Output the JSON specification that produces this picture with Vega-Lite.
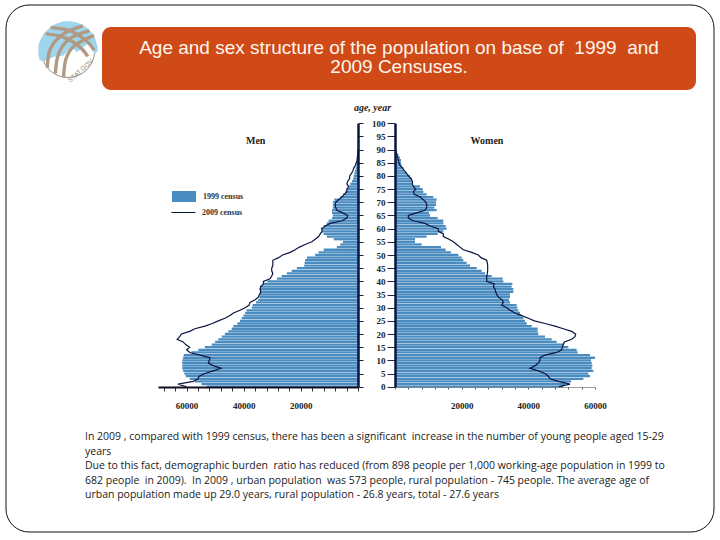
{"$schema":"https://vega.github.io/schema/vega-lite/v6.json","width":720,"height":540,"padding":0,"autosize":{"type":"none"},"background":"white","config":{"view":{"stroke":null},"font":"Liberation Serif"},
"datasets":{"pyramid":[
{"age":0,"men1999":53000,"men2009":60000,"women1999":50500,"women2009":49200},
{"age":1,"men1999":54800,"men2009":63000,"women1999":51000,"women2009":52500},
{"age":2,"men1999":57100,"men2009":57700,"women1999":52800,"women2009":49000},
{"age":3,"men1999":58900,"men2009":56000,"women1999":56500,"women2009":46500},
{"age":4,"men1999":60300,"men2009":55600,"women1999":58500,"women2009":46000},
{"age":5,"men1999":60800,"men2009":53600,"women1999":58000,"women2009":45000},
{"age":6,"men1999":61200,"men2009":50700,"women1999":59500,"women2009":43000},
{"age":7,"men1999":61500,"men2009":48000,"women1999":59000,"women2009":40500},
{"age":8,"men1999":61500,"men2009":50700,"women1999":59200,"women2009":42000},
{"age":9,"men1999":61500,"men2009":52400,"women1999":59000,"women2009":43000},
{"age":10,"men1999":61500,"men2009":52000,"women1999":58800,"women2009":43500},
{"age":11,"men1999":61200,"men2009":51800,"women1999":60000,"women2009":43500},
{"age":12,"men1999":61000,"men2009":55300,"women1999":58500,"women2009":45000},
{"age":13,"men1999":58300,"men2009":58900,"women1999":54800,"women2009":48500},
{"age":14,"men1999":55900,"men2009":60000,"women1999":54500,"women2009":50000},
{"age":15,"men1999":53600,"men2009":58900,"women1999":52000,"women2009":50200},
{"age":16,"men1999":51200,"men2009":60300,"women1999":50500,"women2009":50500},
{"age":17,"men1999":50000,"men2009":61200,"women1999":48500,"women2009":50800},
{"age":18,"men1999":48900,"men2009":63300,"women1999":47000,"women2009":53000},
{"age":19,"men1999":47700,"men2009":62400,"women1999":45000,"women2009":54000},
{"age":20,"men1999":46600,"men2009":61800,"women1999":43000,"women2009":54200},
{"age":21,"men1999":45400,"men2009":58900,"women1999":42800,"women2009":53000},
{"age":22,"men1999":44200,"men2009":57100,"women1999":42800,"women2009":50500},
{"age":23,"men1999":43600,"men2009":53600,"women1999":41000,"women2009":48000},
{"age":24,"men1999":42200,"men2009":51000,"women1999":39500,"women2009":45000},
{"age":25,"men1999":41300,"men2009":48900,"women1999":39000,"women2009":41800},
{"age":26,"men1999":40700,"men2009":46600,"women1999":38500,"women2009":40000},
{"age":27,"men1999":40100,"men2009":44800,"women1999":38000,"women2009":38000},
{"age":28,"men1999":39500,"men2009":43600,"women1999":37500,"women2009":36000},
{"age":29,"men1999":39000,"men2009":41300,"women1999":37000,"women2009":34500},
{"age":30,"men1999":37200,"men2009":39500,"women1999":36700,"women2009":33500},
{"age":31,"men1999":36900,"men2009":38100,"women1999":36500,"women2009":32000},
{"age":32,"men1999":35700,"men2009":37800,"women1999":34500,"women2009":32500},
{"age":33,"men1999":34900,"men2009":36000,"women1999":34200,"women2009":32200},
{"age":34,"men1999":34500,"men2009":34900,"women1999":34500,"women2009":31000},
{"age":35,"men1999":34300,"men2009":34500,"women1999":34500,"women2009":30500},
{"age":36,"men1999":34300,"men2009":34000,"women1999":35500,"women2009":30200},
{"age":37,"men1999":34300,"men2009":34300,"women1999":35500,"women2009":30000},
{"age":38,"men1999":34300,"men2009":34000,"women1999":35000,"women2009":29500},
{"age":39,"men1999":33100,"men2009":33100,"women1999":35200,"women2009":29800},
{"age":40,"men1999":31700,"men2009":33100,"women1999":32500,"women2009":27500},
{"age":41,"men1999":28400,"men2009":30800,"women1999":32300,"women2009":27500},
{"age":42,"men1999":26700,"men2009":30200,"women1999":29000,"women2009":27500},
{"age":43,"men1999":24900,"men2009":29800,"women1999":27000,"women2009":27700},
{"age":44,"men1999":23200,"men2009":30200,"women1999":26000,"women2009":27800},
{"age":45,"men1999":21400,"men2009":30200,"women1999":24500,"women2009":27800},
{"age":46,"men1999":18800,"men2009":29800,"women1999":22500,"women2009":27800},
{"age":47,"men1999":18700,"men2009":29800,"women1999":21500,"women2009":27700},
{"age":48,"men1999":18500,"men2009":29800,"women1999":20500,"women2009":27500},
{"age":49,"men1999":17900,"men2009":27800,"women1999":20000,"women2009":25800},
{"age":50,"men1999":15000,"men2009":26400,"women1999":19000,"women2009":25000},
{"age":51,"men1999":13800,"men2009":23750,"women1999":16800,"women2009":23000},
{"age":52,"men1999":12000,"men2009":22000,"women1999":15200,"women2009":20500},
{"age":53,"men1999":7400,"men2009":20500,"women1999":13800,"women2009":19500},
{"age":54,"men1999":6200,"men2009":18500,"women1999":8000,"women2009":18500},
{"age":55,"men1999":5300,"men2009":16150,"women1999":6000,"women2009":17500},
{"age":56,"men1999":8500,"men2009":15000,"women1999":6000,"women2009":16200},
{"age":57,"men1999":10900,"men2009":13800,"women1999":9500,"women2009":14500},
{"age":58,"men1999":12000,"men2009":13200,"women1999":12800,"women2009":14500},
{"age":59,"men1999":12600,"men2009":12600,"women1999":14500,"women2009":13000},
{"age":60,"men1999":13000,"men2009":12600,"women1999":15500,"women2009":13000},
{"age":61,"men1999":12000,"men2009":11500,"women1999":15200,"women2009":10500},
{"age":62,"men1999":10900,"men2009":9700,"women1999":14500,"women2009":9000},
{"age":63,"men1999":10300,"men2009":5600,"women1999":14500,"women2009":5500},
{"age":64,"men1999":9100,"men2009":3900,"women1999":12800,"women2009":4000},
{"age":65,"men1999":8800,"men2009":3600,"women1999":10500,"women2009":4000},
{"age":66,"men1999":9100,"men2009":5300,"women1999":10200,"women2009":6500},
{"age":67,"men1999":9100,"men2009":7400,"women1999":12500,"women2009":9000},
{"age":68,"men1999":8800,"men2009":7800,"women1999":11800,"women2009":9500},
{"age":69,"men1999":8800,"men2009":8000,"women1999":12300,"women2009":9500},
{"age":70,"men1999":8800,"men2009":7800,"women1999":12300,"women2009":9300},
{"age":71,"men1999":8300,"men2009":6800,"women1999":12500,"women2009":8500},
{"age":72,"men1999":6200,"men2009":5600,"women1999":11500,"women2009":7500},
{"age":73,"men1999":5300,"men2009":4800,"women1999":9500,"women2009":5800},
{"age":74,"men1999":4400,"men2009":3900,"women1999":8500,"women2009":5500},
{"age":75,"men1999":3900,"men2009":3900,"women1999":8300,"women2009":6200},
{"age":76,"men1999":3300,"men2009":3300,"women1999":7500,"women2009":5500},
{"age":77,"men1999":2700,"men2009":3900,"women1999":5300,"women2009":5200},
{"age":78,"men1999":2100,"men2009":3600,"women1999":5000,"women2009":5200},
{"age":79,"men1999":1750,"men2009":2900,"women1999":5000,"women2009":4800},
{"age":80,"men1999":1500,"men2009":2900,"women1999":4500,"women2009":4000},
{"age":81,"men1999":1300,"men2009":2300,"women1999":3500,"women2009":3500},
{"age":82,"men1999":1050,"men2009":1750,"women1999":2700,"women2009":2800},
{"age":83,"men1999":820,"men2009":1500,"women1999":2500,"women2009":2300},
{"age":84,"men1999":600,"men2009":940,"women1999":2000,"women2009":1500},
{"age":85,"men1999":350,"men2009":600,"women1999":1800,"women2009":1200},
{"age":86,"men1999":230,"men2009":350,"women1999":1800,"women2009":1000},
{"age":87,"men1999":120,"men2009":230,"women1999":1500,"women2009":800},
{"age":88,"men1999":60,"men2009":120,"women1999":1000,"women2009":600},
{"age":89,"men1999":30,"men2009":100,"women1999":500,"women2009":400},
{"age":90,"men1999":10,"men2009":0,"women1999":200,"women2009":200}
],
"sky":[
{"x":-0.99,"top":0.14,"low":-0.1},{"x":-0.95,"top":0.31,"low":-0.3},{"x":-0.8,"top":0.6,"low":-0.35},{"x":-0.5,"top":0.866,"low":-0.2},{"x":-0.15,"top":0.989,"low":-0.15},{"x":0.1,"top":0.995,"low":0.13},{"x":0.3,"top":0.954,"low":-0.03},{"x":0.5,"top":0.866,"low":0.12},{"x":0.66,"top":0.751,"low":0.25},{"x":0.8,"top":0.6,"low":0.05},{"x":0.9,"top":0.436,"low":-0.1},{"x":0.99,"top":0.14,"low":0.0}],
"bands":[
{"band":"a1","s":1,"x":-0.69,"y":-0.56},{"band":"a1","s":2,"x":-0.58,"y":0.09},{"band":"a1","s":3,"x":-0.15,"y":0.57},{"band":"a1","s":4,"x":0.49,"y":0.84},
{"band":"a2","s":1,"x":-0.42,"y":-0.75},{"band":"a2","s":2,"x":-0.31,"y":-0.08},{"band":"a2","s":3,"x":0.06,"y":0.41},{"band":"a2","s":4,"x":0.71,"y":0.68},
{"band":"a3","s":1,"x":-0.15,"y":-0.88},{"band":"a3","s":2,"x":-0.06,"y":-0.24},{"band":"a3","s":3,"x":0.23,"y":0.19},{"band":"a3","s":4,"x":0.87,"y":0.52},
{"band":"b1","s":1,"x":-0.58,"y":0.78},{"band":"b1","s":2,"x":0.06,"y":0.68},{"band":"b1","s":3,"x":0.6,"y":0.35},{"band":"b1","s":4,"x":0.87,"y":0.03},
{"band":"b2","s":1,"x":-0.74,"y":0.57},{"band":"b2","s":2,"x":-0.15,"y":0.46},{"band":"b2","s":3,"x":0.39,"y":0.14},{"band":"b2","s":4,"x":0.66,"y":-0.18}]},
"resolve":{"scale":{"x":"independent","y":"independent"},"axis":{"x":"independent","y":"independent"}},
"layer":[
{"data":{"values":[{"part":"slide"}]},"mark":{"type":"rect","fillOpacity":0,"stroke":"#111111","strokeWidth":1,"cornerRadius":23},
 "encoding":{"x":{"datum":0,"type":"quantitative","scale":{"domain":[0,1],"range":[6,714]},"axis":null},"x2":{"datum":1},"y":{"datum":0,"type":"quantitative","scale":{"domain":[0,1],"range":[5,532]},"axis":null},"y2":{"datum":1}}},
{"data":{"values":[{"part":"header"}]},"mark":{"type":"rect","fill":"#cf4a17","cornerRadius":9},
 "encoding":{"x":{"datum":0,"type":"quantitative","scale":{"domain":[0,1],"range":[102,696]},"axis":null},"x2":{"datum":1},"y":{"datum":0,"type":"quantitative","scale":{"domain":[0,1],"range":[27,90]},"axis":null},"y2":{"datum":1}}},
{"data":{"values":[{"n":1,"line":"Age and sex structure of the population on base of \u00a01999 \u00a0and"},{"n":2,"line":"2009 Censuses."}]},"mark":{"type":"text","font":"Liberation Sans","fontSize":19,"fill":"#fdf6ee","align":"center","baseline":"middle"},
 "encoding":{"x":{"datum":0.5,"type":"quantitative","scale":{"domain":[0,1],"range":[102,696]},"axis":null},"y":{"field":"n","type":"quantitative","scale":{"domain":[1,2],"range":[47.5,67]},"axis":null},"text":{"field":"line"}}},
{"data":{"values":[{"n":1,"line":"In 2009 , compared with 1999 census, there has been a significant \u00a0increase in the number of young people aged 15-29"},{"n":2,"line":"years"},{"n":3,"line":"Due to this fact, demographic burden \u00a0ratio has reduced (from 898 people per 1,000 working-age population in 1999 to"},{"n":4,"line":"682 people \u00a0in 2009). \u00a0In 2009 , urban population \u00a0was 573 people, rural population - 745 people. The average age of"},{"n":5,"line":"urban population made up 29.0 years, rural population - 26.8 years, total - 27.6 years"}]},"mark":{"type":"text","font":"Open Sans","fontSize":10.5,"fill":"#222222","align":"left","baseline":"middle"},
 "encoding":{"x":{"datum":0,"type":"quantitative","scale":{"domain":[0,1],"range":[85,660]},"axis":null},"y":{"field":"n","type":"quantitative","scale":{"domain":[1,5],"range":[437,495]},"axis":null},"text":{"field":"line"}}},
{"data":{"name":"pyramid"},"mark":{"type":"bar","orient":"horizontal","size":2.3},"encoding":{"x":{"field":"men1999","type":"quantitative","stack":null,"scale":{"domain":[70000,0],"range":[158,358],"nice":false,"padding":0},"axis":{"orient":"bottom","offset":-153,"title":null,"grid":false,"zindex":1,"labelFlush":false,"values":[0,4000,8000,12000,16000,20000,24000,28000,32000,36000,40000,44000,48000,52000,56000,60000,64000,68000],"labelExpr":"datum.value > 0 && datum.value % 20000 == 0 ? datum.value : ''","labelFont":"Liberation Serif","labelFontWeight":"bold","labelFontSize":9,"labelColor":"#222222","labelPadding":10,"tickSize":4,"tickColor":"#333333","domainColor":"#111122","domainWidth":2,"labelOverlap":false}},"x2":{"datum":0},
  "y":{"field":"age","type":"quantitative","scale":{"domain":[0,100],"range":[386.7,123.3],"nice":false,"padding":0},"axis":{"orient":"right","offset":-362,"title":null,"grid":false,"values":[0,5,10,15,20,25,30,35,40,45,50,55,60,65,70,75,80,85,90,95,100],"labels":false,"tickSize":5,"tickColor":"#222244","domainColor":"#0a1540","domainWidth":2.5,"zindex":1}},
  "color":{"datum":"1999 census","scale":{"domain":["1999 census"],"range":["#4a8cc0"]},"legend":{"orient":"none","legendX":171,"legendY":183.5,"title":null,"padding":0,"symbolType":"M-1,-0.46H1V0.46H-1Z","symbolSize":576,"symbolOpacity":1,"labelFont":"Liberation Serif","labelFontWeight":"bold","labelFontSize":8,"labelColor":"#333333","labelOffset":6}}}},
{"data":{"name":"pyramid"},"mark":{"type":"line","strokeWidth":1.2},"encoding":{"x":{"field":"men2009","type":"quantitative","scale":{"domain":[70000,0],"range":[158,358],"nice":false,"padding":0},"axis":null},"y":{"field":"age","type":"quantitative","scale":{"domain":[0,100],"range":[386.7,123.3],"nice":false,"padding":0},"axis":null},"order":{"field":"age"},"stroke":{"datum":"2009 census","scale":{"domain":["2009 census"],"range":["#0a1540"]},"legend":{"orient":"none","legendX":171,"legendY":200,"title":null,"padding":0,"symbolType":"stroke","symbolSize":576,"symbolStrokeWidth":1,"labelFont":"Liberation Serif","labelFontWeight":"bold","labelFontSize":8,"labelColor":"#333333","labelOffset":6}}}},
{"data":{"values":[{"age":93.3,"population":35800,"label":"Men"}]},"mark":{"type":"text","font":"Liberation Serif","fontWeight":"bold","fontSize":10,"fill":"#222222"},"encoding":{"x":{"field":"population","type":"quantitative","scale":{"domain":[70000,0],"range":[158,358],"nice":false,"padding":0},"axis":null},"y":{"field":"age","type":"quantitative","scale":{"domain":[0,100],"range":[386.7,123.3],"nice":false,"padding":0},"axis":null},"text":{"field":"label"}}},
{"data":{"name":"pyramid"},"mark":{"type":"bar","orient":"horizontal","size":2.3,"fill":"#4a8cc0"},"encoding":{"x":{"field":"women1999","type":"quantitative","stack":null,"scale":{"domain":[0,60000],"range":[395,595],"nice":false,"padding":0},"axis":{"orient":"bottom","offset":-153,"title":null,"grid":false,"zindex":1,"labelFlush":false,"values":[0,4000,8000,12000,16000,20000,24000,28000,32000,36000,40000,44000,48000,52000,56000,60000],"labelExpr":"datum.value > 0 && datum.value % 20000 == 0 ? datum.value : ''","labelFont":"Liberation Serif","labelFontWeight":"bold","labelFontSize":9,"labelColor":"#222222","labelPadding":12,"tickSize":2,"tickColor":"#555555","domainColor":"#777777","domainWidth":0.7,"labelOverlap":false}},
  "y":{"field":"age","type":"quantitative","scale":{"domain":[0,100],"range":[386.7,123.3],"nice":false,"padding":0},"axis":{"orient":"left","offset":-395,"grid":false,"values":[0,5,10,15,20,25,30,35,40,45,50,55,60,65,70,75,80,85,90,95,100],"labelFont":"Liberation Serif","labelFontWeight":"bold","labelFontSize":9,"labelColor":"#222222","labelPadding":2,"labelOverlap":false,"tickSize":8,"tickColor":"#222244","domainColor":"#0a1540","domainWidth":2.5,"zindex":1,"title":"age, year","titleAngle":0,"titleFont":"Liberation Serif","titleFontStyle":"italic","titleFontWeight":"bold","titleFontSize":10,"titleColor":"#222222","titleX":-23,"titleY":107,"titleAlign":"center","titleBaseline":"middle"}}}},
{"data":{"name":"pyramid"},"mark":{"type":"line","strokeWidth":1.2,"stroke":"#0a1540"},"encoding":{"x":{"field":"women2009","type":"quantitative","scale":{"domain":[0,60000],"range":[395,595],"nice":false,"padding":0},"axis":null},"y":{"field":"age","type":"quantitative","scale":{"domain":[0,100],"range":[386.7,123.3],"nice":false,"padding":0},"axis":null},"order":{"field":"age"}}},
{"data":{"values":[{"age":93.3,"population":27600,"label":"Women"}]},"mark":{"type":"text","font":"Liberation Serif","fontWeight":"bold","fontSize":10,"fill":"#222222"},"encoding":{"x":{"field":"population","type":"quantitative","scale":{"domain":[0,60000],"range":[395,595],"nice":false,"padding":0},"axis":null},"y":{"field":"age","type":"quantitative","scale":{"domain":[0,100],"range":[386.7,123.3],"nice":false,"padding":0},"axis":null},"text":{"field":"label"}}},
{"data":{"values":[{"part":"logo"}]},"mark":{"type":"point","filled":true,"fill":"white","stroke":"#9a8f85","strokeWidth":1,"size":2827,"opacity":1},"encoding":{"x":{"datum":0,"type":"quantitative","scale":{"domain":[-1,1],"range":[38,98]},"axis":null},"y":{"datum":0,"type":"quantitative","scale":{"domain":[-1,1],"range":[81,21]},"axis":null}}},
{"data":{"name":"sky"},"mark":{"type":"area","fill":"#9fd6ee"},"encoding":{"x":{"field":"x","type":"quantitative","scale":{"domain":[-1,1],"range":[38,98]},"axis":null},"y":{"field":"top","type":"quantitative","scale":{"domain":[-1,1],"range":[81,21]},"axis":null},"y2":{"field":"low"}}},
{"data":{"name":"bands"},"mark":{"type":"line","stroke":"#b09a84","strokeWidth":3.4,"interpolate":"cardinal"},"encoding":{"x":{"field":"x","type":"quantitative","scale":{"domain":[-1,1],"range":[38,98]},"axis":null},"y":{"field":"y","type":"quantitative","scale":{"domain":[-1,1],"range":[81,21]},"axis":null},"detail":{"field":"band"},"order":{"field":"s"}}},
{"data":{"values":[{"x":0.42,"y":-0.66,"label":"STAT.GOV"}]},"mark":{"type":"text","font":"Liberation Sans","fontSize":6.5,"angle":318,"fill":"#8a8a80"},"encoding":{"x":{"field":"x","type":"quantitative","scale":{"domain":[-1,1],"range":[38,98]},"axis":null},"y":{"field":"y","type":"quantitative","scale":{"domain":[-1,1],"range":[81,21]},"axis":null},"text":{"field":"label"}}}
]}
